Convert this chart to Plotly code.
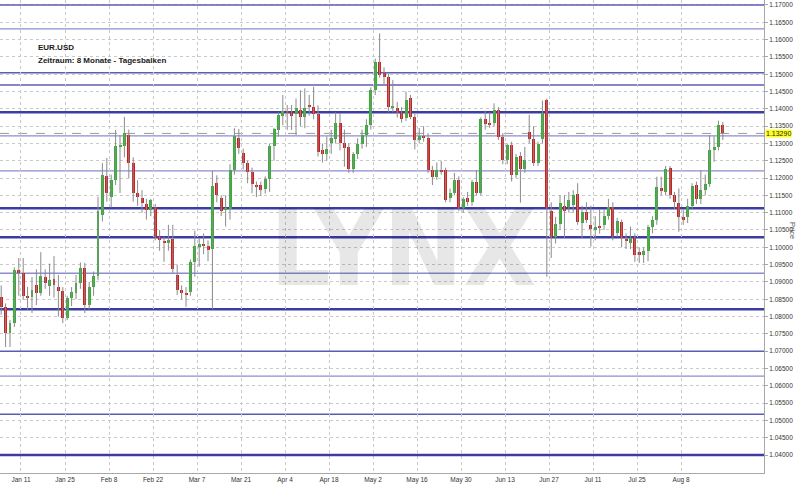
import pandas as pd
import plotly.graph_objects as go

# ---------------- data ----------------
dates = pd.bdate_range("2016-01-04", "2016-08-19")  # daily bars (weekdays)

opens = [
    1.0855, 1.0828, 1.0752, 1.0781, 1.0934,
    1.0927, 1.0858, 1.0857, 1.0891, 1.0869,
    1.0915, 1.0889, 1.0907, 1.0886, 1.0875,
    1.0795, 1.0853, 1.0868, 1.0897, 1.0940,
    1.0833, 1.0886, 1.0917, 1.1093, 1.1206,
    1.1146, 1.1194, 1.1290, 1.1293, 1.1325,
    1.1243, 1.1158, 1.1143, 1.1125, 1.1108,
    1.1117, 1.1029, 1.1018, 1.1015, 1.1023,
    1.0920, 1.0876, 1.0868, 1.0872, 1.0958,
    1.1002, 1.1010, 1.1004, 1.0996, 1.1185,
    1.1142, 1.1108, 1.1110, 1.1223, 1.1317,
    1.1271, 1.1243, 1.1218, 1.1180, 1.1180,
    1.1167, 1.1196, 1.1293, 1.1338, 1.1380,
    1.1394, 1.1388, 1.1385, 1.1397, 1.1377,
    1.1411, 1.1405, 1.1384, 1.1281, 1.1270,
    1.1300, 1.1314, 1.1360, 1.1300, 1.1289,
    1.1225, 1.1270, 1.1299, 1.1324, 1.1353,
    1.1454, 1.1536, 1.1503, 1.1493, 1.1401,
    1.1402, 1.1387, 1.1373, 1.1431, 1.1376,
    1.1310, 1.1322, 1.1315, 1.1223, 1.1204,
    1.1223, 1.1223, 1.1142, 1.1156, 1.1194,
    1.1113, 1.1142, 1.1132, 1.1190, 1.1156,
    1.1370, 1.1358, 1.1358, 1.1397, 1.1320,
    1.1252, 1.1296, 1.1209, 1.1264, 1.1225,
    1.1334, 1.1312, 1.1244, 1.1312, 1.1426,
    1.1105, 1.1029, 1.1067, 1.1120, 1.1115,
    1.1121, 1.1154, 1.1071, 1.1103, 1.1064,
    1.1050, 1.1060, 1.1064, 1.1091, 1.1117,
    1.1040, 1.1074, 1.1024, 1.1011, 1.1026,
    1.0985, 1.0978, 1.0990, 1.1060, 1.1079,
    1.1170, 1.1161, 1.1228, 1.1151, 1.1129,
    1.1088, 1.1087, 1.1120, 1.1180, 1.1139,
    1.1166, 1.1183, 1.1281, 1.1291, 1.1353,
]
highs = [
    1.0890, 1.0838, 1.0790, 1.0942, 1.0969,
    1.0969, 1.0886, 1.0914, 1.0936, 1.0986,
    1.0936, 1.0953, 1.0975, 1.0920, 1.0885,
    1.0860, 1.0885, 1.0920, 1.0956, 1.0955,
    1.0900, 1.0930, 1.1146, 1.1243, 1.1258,
    1.1210, 1.1339, 1.1324, 1.1377, 1.1340,
    1.1260, 1.1194, 1.1165, 1.1140, 1.1140,
    1.1125, 1.1050, 1.1030, 1.1065, 1.1065,
    1.0950, 1.0890, 1.0885, 1.0965, 1.1048,
    1.1027, 1.1040, 1.1020, 1.1221, 1.1208,
    1.1150, 1.1150, 1.1240, 1.1344, 1.1342,
    1.1285, 1.1250, 1.1230, 1.1190, 1.1190,
    1.1205, 1.1300, 1.1345, 1.1390, 1.1440,
    1.1411, 1.1411, 1.1430, 1.1454, 1.1459,
    1.1440, 1.1464, 1.1410, 1.1300, 1.1320,
    1.1340, 1.1390, 1.1387, 1.1340, 1.1300,
    1.1275, 1.1315, 1.1340, 1.1370, 1.1462,
    1.1545, 1.1618, 1.1520, 1.1505, 1.1483,
    1.1420, 1.1405, 1.1450, 1.1440, 1.1385,
    1.1345, 1.1350, 1.1330, 1.1235, 1.1245,
    1.1250, 1.1230, 1.1170, 1.1215, 1.1205,
    1.1145, 1.1160, 1.1195, 1.1223, 1.1375,
    1.1395, 1.1390, 1.1416, 1.1405, 1.1330,
    1.1300, 1.1305, 1.1270, 1.1275, 1.1290,
    1.1383, 1.1350, 1.1305, 1.1424, 1.1430,
    1.1130, 1.1088, 1.1150, 1.1150, 1.1160,
    1.1165, 1.1185, 1.1120, 1.1130, 1.1120,
    1.1090, 1.1110, 1.1110, 1.1140, 1.1130,
    1.1085, 1.1080, 1.1040, 1.1060, 1.1040,
    1.1000, 1.1000, 1.1065, 1.1090, 1.1204,
    1.1204, 1.1235, 1.1235, 1.1160, 1.1170,
    1.1110, 1.1140, 1.1185, 1.1190, 1.1223,
    1.1210, 1.1324, 1.1320, 1.1366, 1.1362,
]
lows = [
    1.0805, 1.0712, 1.0712, 1.0770, 1.0860,
    1.0848, 1.0819, 1.0810, 1.0833, 1.0860,
    1.0880, 1.0860, 1.0855, 1.0800, 1.0781,
    1.0790, 1.0830, 1.0850, 1.0880, 1.0810,
    1.0820, 1.0860, 1.0905, 1.1075, 1.1132,
    1.1115, 1.1180, 1.1157, 1.1260, 1.1200,
    1.1132, 1.1120, 1.1100, 1.1080, 1.1090,
    1.1020, 1.0990, 1.0958, 1.0990, 1.0925,
    1.0862, 1.0850, 1.0828, 1.0860, 1.0915,
    1.0944, 1.0980, 1.0960, 1.0821, 1.1130,
    1.1090, 1.1060, 1.1080, 1.1210, 1.1270,
    1.1225, 1.1185, 1.1156, 1.1145, 1.1148,
    1.1155, 1.1160, 1.1250, 1.1320, 1.1353,
    1.1339, 1.1339, 1.1324, 1.1350, 1.1344,
    1.1380, 1.1370, 1.1262, 1.1245, 1.1250,
    1.1270, 1.1300, 1.1280, 1.1233, 1.1215,
    1.1215, 1.1255, 1.1285, 1.1290, 1.1340,
    1.1440, 1.1490, 1.1470, 1.1390, 1.1390,
    1.1375, 1.1360, 1.1365, 1.1370, 1.1283,
    1.1300, 1.1305, 1.1215, 1.1180, 1.1195,
    1.1210, 1.1130, 1.1130, 1.1150, 1.1105,
    1.1100, 1.1120, 1.1120, 1.1150, 1.1150,
    1.1340, 1.1345, 1.1350, 1.1310, 1.1240,
    1.1240, 1.1190, 1.1200, 1.1129, 1.1215,
    1.1300, 1.1235, 1.1235, 1.1300, 1.0915,
    1.0969, 1.1011, 1.1050, 1.1027, 1.1100,
    1.1100, 1.1065, 1.1027, 1.1070, 1.1002,
    1.1020, 1.1040, 1.1050, 1.1080, 1.1020,
    1.1030, 1.1000, 1.0995, 1.0995, 1.0958,
    1.0955, 1.0955, 1.0960, 1.1040, 1.1065,
    1.1150, 1.1150, 1.1140, 1.1110, 1.1045,
    1.1065, 1.1070, 1.1110, 1.1125, 1.1125,
    1.1150, 1.1175, 1.1247, 1.1280, 1.1310,
]
closes = [
    1.0828, 1.0752, 1.0781, 1.0934, 1.0927,
    1.0860, 1.0856, 1.0877, 1.0868, 1.0917,
    1.0896, 1.0905, 1.0890, 1.0875, 1.0795,
    1.0853, 1.0872, 1.0897, 1.0940, 1.0833,
    1.0886, 1.0917, 1.1106, 1.1209, 1.1156,
    1.1194, 1.1293, 1.1294, 1.1329, 1.1243,
    1.1158, 1.1146, 1.1129, 1.1108, 1.1137,
    1.1030, 1.1021, 1.1013, 1.1020, 1.0936,
    1.0876, 1.0868, 1.0865, 1.0958, 1.1004,
    1.1010, 1.1004, 1.0992, 1.1177, 1.1151,
    1.1105, 1.1113, 1.1223, 1.1321, 1.1286,
    1.1243, 1.1218, 1.1183, 1.1176, 1.1165,
    1.1196, 1.1293, 1.1341, 1.1382, 1.1394,
    1.1388, 1.1378, 1.1402, 1.1377, 1.1402,
    1.1405, 1.1384, 1.1276, 1.1270, 1.1284,
    1.1315, 1.1360, 1.1300, 1.1287, 1.1225,
    1.1270, 1.1299, 1.1324, 1.1353, 1.1454,
    1.1536, 1.1498, 1.1491, 1.1406, 1.1407,
    1.1387, 1.1372, 1.1426, 1.1376, 1.1310,
    1.1322, 1.1316, 1.1223, 1.1204, 1.1223,
    1.1218, 1.1137, 1.1158, 1.1194, 1.1113,
    1.1139, 1.1132, 1.1190, 1.1156, 1.1370,
    1.1356, 1.1356, 1.1397, 1.1320, 1.1252,
    1.1296, 1.1209, 1.1262, 1.1225, 1.1252,
    1.1312, 1.1244, 1.1298, 1.1387, 1.1113,
    1.1030, 1.1067, 1.1127, 1.1105, 1.1137,
    1.1152, 1.1074, 1.1103, 1.1079, 1.1052,
    1.1059, 1.1056, 1.1091, 1.1117, 1.1033,
    1.1075, 1.1026, 1.1020, 1.1026, 1.0978,
    1.0978, 1.0990, 1.1060, 1.1079, 1.1175,
    1.1165, 1.1225, 1.1151, 1.1132, 1.1088,
    1.1080, 1.1120, 1.1177, 1.1139, 1.1166,
    1.1183, 1.1281, 1.1291, 1.1353, 1.1329,
]

last_price = 1.13290
tick_dates = ["2016-01-11", "2016-01-25", "2016-02-08", "2016-02-22", "2016-03-07",
              "2016-03-21", "2016-04-04", "2016-04-18", "2016-05-02", "2016-05-16",
              "2016-05-30", "2016-06-13", "2016-06-27", "2016-07-11", "2016-07-25",
              "2016-08-08"]
tick_labels = ["Jan 11", "Jan 25", "Feb 8", "Feb 22", "Mar 7", "Mar 21", "Apr 4",
               "Apr 18", "May 2", "May 16", "May 30", "Jun 13", "Jun 27", "Jul 11",
               "Jul 25", "Aug 8"]
price_ticks = [round(1.04 + 0.005 * k, 3) for k in range(27)]
price_labels = [f"{v:.5f}" for v in price_ticks]

# horizontal support / resistance levels (strong = thick)
levels_strong = [1.1390, 1.1113, 1.1029, 1.0821, 1.0400]
levels_medium = [1.1700, 1.1504, 1.1469, 1.0700, 1.0518]
levels_light = [1.1631, 1.1322, 1.1221, 1.0925, 1.0628]

# ---------------- figure ----------------
UP, DOWN, WICK = "#2cb52c", "#d61a1a", "#8a8a8a"
xc = dates + pd.Timedelta(hours=12)

wx, wy = [], []
for d, h, l in zip(xc, highs, lows):
    wx += [d, d, None]
    wy += [l, h, None]

body_base = [min(o, c) for o, c in zip(opens, closes)]
body_h = [max(abs(c - o), 0.00012) for o, c in zip(opens, closes)]
body_col = [UP if c >= o else DOWN for o, c in zip(opens, closes)]

fig = go.Figure()
fig.add_trace(go.Scatter(x=wx, y=wy, mode="lines",
                         line=dict(color=WICK, width=1), hoverinfo="skip"))
fig.add_trace(go.Bar(x=xc, y=body_h, base=body_base, marker_color=body_col,
                     marker_line_width=0, width=0.68 * 86400000))


def level_layer(lv):
    # levels that sit on a grid line are drawn on top so the dotted grid does not cut them
    on_grid = abs(round(lv / 0.005) * 0.005 - lv) < 1e-6
    return "above" if on_grid else "below"


shapes = []
for lv in levels_light:
    shapes.append(dict(type="line", xref="paper", x0=0, x1=1, yref="y", y0=lv, y1=lv,
                       line=dict(color="#8c8cd0", width=1.3), layer=level_layer(lv)))
for lv in levels_medium:
    shapes.append(dict(type="line", xref="paper", x0=0, x1=1, yref="y", y0=lv, y1=lv,
                       line=dict(color="#5c5cb4", width=1.5), layer=level_layer(lv)))
for lv in levels_strong:
    shapes.append(dict(type="line", xref="paper", x0=0, x1=1, yref="y", y0=lv, y1=lv,
                       line=dict(color="#3c3ca4", width=2.4), layer=level_layer(lv)))
shapes.append(dict(type="line", xref="paper", x0=0, x1=1, yref="y", y0=last_price,
                   y1=last_price, line=dict(color="#9a9a9a", width=1, dash="dash"),
                   layer="below"))

PW, PH = 764.0, 473.0  # plot area size in px
annotations = [
    dict(text="LYNX", xref="paper", yref="paper", x=404 / PW, y=1 - 249 / PH,
         showarrow=False, xanchor="center", yanchor="middle",
         font=dict(family="DejaVu Sans Condensed, DejaVu Sans, Liberation Sans",
                   size=106, color="rgba(0,0,0,0.095)", weight="bold")),
    dict(text="<b>EUR.USD</b>", xref="paper", yref="paper", x=36 / PW, y=1 - 47 / PH,
         showarrow=False, xanchor="left", yanchor="middle",
         font=dict(family="Liberation Sans, Arial", size=8, color="#1a1a1a")),
    dict(text="<b>Zeitraum: 8 Monate - Tagesbalken</b>", xref="paper", yref="paper",
         x=36 / PW, y=1 - 60 / PH, showarrow=False, xanchor="left", yanchor="middle",
         font=dict(family="Liberation Sans, Arial", size=8, color="#1a1a1a")),
    dict(text="1.13290", xref="paper", yref="y", x=1, y=last_price, xanchor="left",
         yanchor="middle", xshift=1, showarrow=False, bgcolor="#ffff20",
         borderpad=0, font=dict(family="Liberation Sans, Arial", size=7, color="#222")),
    dict(text="Price", xref="paper", yref="paper", x=1 + 29 / PW, y=1 - 231 / PH,
         showarrow=False, textangle=90, xanchor="center", yanchor="middle",
         font=dict(family="Liberation Sans, Arial", size=7.5, color="#555")),
]

fig.update_layout(
    width=800, height=486,
    margin=dict(l=0, r=36, t=0, b=13),
    plot_bgcolor="white", paper_bgcolor="white",
    showlegend=False, bargap=0,
    shapes=shapes, annotations=annotations,
    xaxis=dict(
        type="date",
        range=["2016-01-04 05:30", "2016-09-01 20:30"],
        rangebreaks=[dict(bounds=["sat", "mon"])],
        tickvals=tick_dates, ticktext=tick_labels,
        showgrid=True, gridcolor="#c9c9c9", griddash="dot", gridwidth=1,
        showline=True, linecolor="#a8a8a8", linewidth=1,
        ticks="", zeroline=False,
        tickfont=dict(family="Liberation Sans, Arial", size=6.5, color="#333"),
    ),
    yaxis=dict(
        side="right",
        range=[1.0348, 1.17144],
        tickvals=price_ticks, ticktext=price_labels,
        showgrid=True, gridcolor="#c9c9c9", griddash="dot", gridwidth=1,
        showline=True, linecolor="#a8a8a8", linewidth=1,
        ticks="outside", ticklen=3, tickcolor="#a8a8a8", zeroline=False,
        tickfont=dict(family="Liberation Sans, Arial", size=6.5, color="#333"),
    ),
)

fig.write_html("out.html", config={"displayModeBar": False},
               post_script="document.body.style.margin='0';")
